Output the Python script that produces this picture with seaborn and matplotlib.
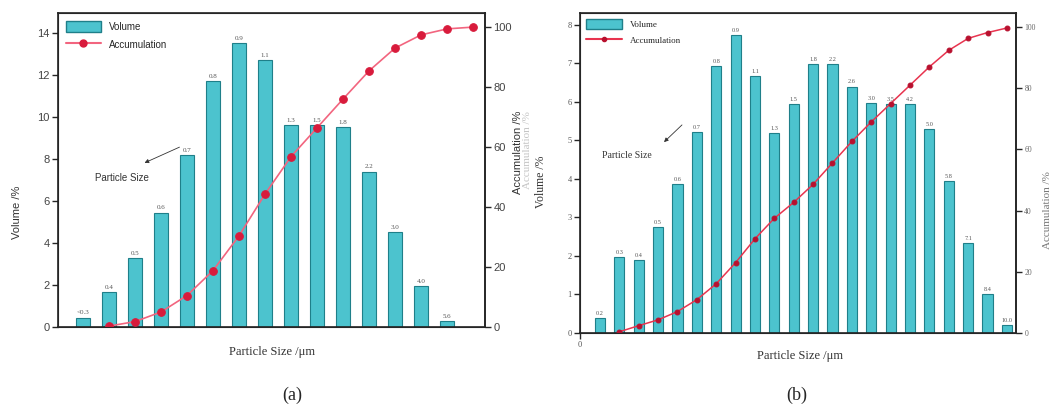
import numpy as np
import matplotlib
matplotlib.use("Agg")
import matplotlib.pyplot as plt
import seaborn as sns
from matplotlib.patches import Patch
from matplotlib.lines import Line2D

# =========================================
# Data
# =========================================

# panel (a)
size_a = ["<0.3", "0.4", "0.5", "0.6", "0.7", "0.8", "0.9", "1.1",
          "1.3", "1.5", "1.8", "2.2", "3.0", "4.0", "5.6"]
vol_a = [0.45, 1.65, 3.3, 5.45, 8.2, 11.7, 13.5, 12.7,
         9.6, 9.6, 9.5, 7.4, 4.5, 1.95, 0.3]
acc_a = [0.3, 1.8, 5.0, 10.5, 18.8, 30.4, 44.3, 56.8,
         66.4, 76.0, 85.4, 93.0, 97.4, 99.4, 100.0]

# panel (b)
size_b = ["0.2", "0.3", "0.4", "0.5", "0.6", "0.7", "0.8", "0.9", "1.1",
          "1.3", "1.5", "1.8", "2.2", "2.6", "3.0", "3.5", "4.2", "5.0",
          "5.8", "7.1", "8.4", "10.0"]
vol_b = [0.4, 1.98, 1.9, 2.74, 3.86, 5.23, 6.94, 7.74, 6.68,
         5.2, 5.94, 6.98, 6.99, 6.4, 5.98, 5.94, 5.94, 5.3,
         3.95, 2.33, 1.0, 0.21]
acc_b = [0.4, 2.4, 4.3, 7.0, 10.9, 16.1, 23.0, 30.8, 37.5, 42.7,
         48.6, 55.6, 62.6, 69.0, 75.0, 81.0, 87.0, 92.4, 96.3, 98.2, 99.7]

bar_color = "#4cc3ce"
bar_edge = "#1f7f89"

sns.set_style("white")
plt.rcParams["font.family"] = ["Liberation Serif", "DejaVu Serif"]

W, H = 1056, 417
fig = plt.figure(figsize=(W / 100, H / 100), dpi=100)


def px_axes(l, t, r, b):
    return fig.add_axes([l / W, 1 - b / H, (r - l) / W, (b - t) / H])


def ftext(x, y, s, **kw):
    fig.text(x / W, 1 - y / H, s, **kw)


# =========================================
# Panel (a)
# =========================================

ax = px_axes(58, 13, 485, 327)
sns.barplot(x=size_a, y=vol_a, ax=ax, color=bar_color, edgecolor=bar_edge,
            linewidth=0.8, width=0.55, saturation=1)
ax.bar_label(ax.containers[0], labels=size_a, fontsize=5, padding=1.5,
             color="#555555")
ax.set_xlim(-0.96, 15.46)
ax.set_ylim(0, 14.95)
ax.set_yticks(np.arange(0, 15, 2))
ax.set_xticks([])
ax.tick_params(axis="y", direction="out", length=4, width=1, labelsize=8,
               left=True, pad=2, labelcolor="#444444")
for lab in ax.get_yticklabels():
    lab.set_family("Liberation Sans")
for sp in ax.spines.values():
    sp.set_linewidth(1.2)
    sp.set_color("#222222")

ax2 = ax.twinx()
sns.lineplot(x=np.arange(1, len(acc_a) + 1), y=acc_a, ax=ax2, color="#f2657f",
             linewidth=1.2, marker="o", markersize=5.5,
             markerfacecolor="#d81b3c", markeredgecolor="#d81b3c")
ax2.set_ylim(0, 104.7)
ax2.set_yticks(np.arange(0, 101, 20))
ax2.tick_params(axis="y", direction="out", length=4, width=1, labelsize=8,
                right=True, pad=2, labelcolor="#444444")
for lab in ax2.get_yticklabels():
    lab.set_family("Liberation Sans")
ax2.set_ylabel("")
ax2.spines["right"].set_linewidth(1.2)

handles = [Patch(facecolor=bar_color, edgecolor=bar_edge, label="Volume"),
           Line2D([], [], color="#f2657f", marker="o", markersize=5,
                  markerfacecolor="#d81b3c", markeredgecolor="#d81b3c",
                  label="Accumulation")]
ax2.legend(handles=handles, loc="upper left", frameon=False, handlelength=3.6,
           handleheight=1.4, borderaxespad=0.4, labelspacing=0.7,
           prop={"family": "Liberation Sans", "size": 7})

ax2.annotate("", xy=(142 / W, 1 - 164 / H), xytext=(182 / W, 1 - 146 / H),
             xycoords="figure fraction", textcoords="figure fraction",
             arrowprops=dict(arrowstyle="-|>", color="#333333", lw=0.6,
                             mutation_scale=6))
ftext(95, 178, "Particle Size", fontsize=7, family="Liberation Sans",
      color="#333333", va="center")

ftext(17, 212, "Volume /%", rotation=90, fontsize=8, ha="center", va="center",
      family="Liberation Sans", color="#333333")
ftext(518, 152, "Accumulation /%", rotation=90, fontsize=8, ha="center",
      va="center", family="Liberation Sans", color="#333333")
ftext(272, 352, "Particle Size /\u03bcm", fontsize=9, ha="center", va="center",
      color="#333333")

# =========================================
# Panel (b)
# =========================================

bx = px_axes(580, 13, 1016, 333)
sns.barplot(x=size_b, y=vol_b, ax=bx, color=bar_color, edgecolor=bar_edge,
            linewidth=0.8, width=0.52, saturation=1)
bx.bar_label(bx.containers[0], labels=size_b, fontsize=4.5, padding=1.5,
             color="#555555")
bx.set_xlim(-1.03, 21.47)
bx.set_ylim(0, 8.31)
bx.set_yticks(np.arange(0, 9, 1))
bx.set_xticks([-1.03])
bx.set_xticklabels(["0"], fontsize=5, color="#555555")
bx.tick_params(axis="both", direction="out", length=4, width=1, labelsize=6,
               left=True, bottom=True, pad=2, labelcolor="#555555")
for sp in bx.spines.values():
    sp.set_linewidth(1.2)
    sp.set_color("#222222")

bx2 = bx.twinx()
sns.lineplot(x=np.arange(1, len(acc_b) + 1), y=acc_b, ax=bx2, color="#e8344f",
             linewidth=1.1, marker="o", markersize=3.5,
             markerfacecolor="#b8102e", markeredgecolor="#b8102e")
bx2.set_ylim(0, 104.6)
bx2.set_yticks(np.arange(0, 101, 20))
bx2.tick_params(axis="y", direction="out", length=4, width=1, labelsize=5.5,
                right=True, pad=2, labelcolor="#666666")
bx2.set_ylabel("")
bx2.spines["right"].set_linewidth(1.2)

handles_b = [Patch(facecolor=bar_color, edgecolor=bar_edge, label="Volume"),
             Line2D([], [], color="#e8344f", marker="o", markersize=3,
                    markerfacecolor="#b8102e", markeredgecolor="#b8102e",
                    label="Accumulation")]
bx2.legend(handles=handles_b, loc="upper left", frameon=False,
           handlelength=4.0, handleheight=1.3, borderaxespad=0.3,
           labelspacing=0.6, prop={"family": "Liberation Serif", "size": 6.5})

bx2.annotate("", xy=(662 / W, 1 - 144 / H), xytext=(684 / W, 1 - 123 / H),
             xycoords="figure fraction", textcoords="figure fraction",
             arrowprops=dict(arrowstyle="-|>", color="#333333", lw=0.6,
                             mutation_scale=6))
ftext(602, 155, "Particle Size", fontsize=7, color="#333333", va="center")

ftext(528, 150, "Accumulation /%", rotation=90, fontsize=8, ha="center",
      va="center", color="#c4c4c4")
ftext(541, 182, "Volume /%", rotation=90, fontsize=8.5, ha="center",
      va="center", color="#333333")
ftext(1048, 210, "Accumulation /%", rotation=90, fontsize=8, ha="center",
      va="center", color="#777777")
ftext(800, 356, "Particle Size /\u03bcm", fontsize=9, ha="center", va="center",
      color="#333333")

# captions
ftext(292, 395, "(a)", fontsize=13, ha="center", va="center")
ftext(797, 395, "(b)", fontsize=13, ha="center", va="center")

fig.savefig("out.png", dpi=100, facecolor="white")
